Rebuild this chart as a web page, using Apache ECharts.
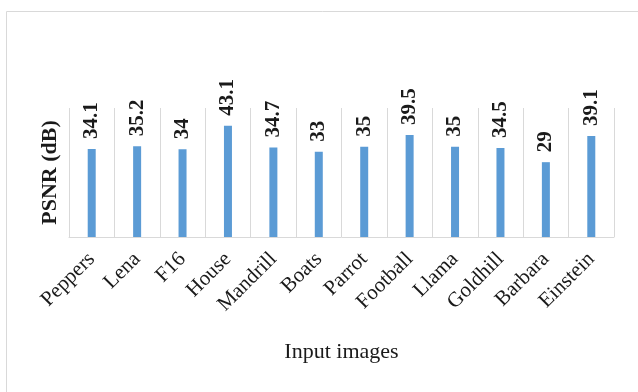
<!DOCTYPE html>
<html>
<head>
<meta charset="utf-8">
<script src="https://cdn.jsdelivr.net/npm/echarts@6/dist/echarts.min.js"></script>
<style>
  html, body { margin: 0; padding: 0; background: #fff; }
  #chart { width: 638px; height: 392px; }
</style>
</head>
<body>
<div id="chart"></div>
<script>
var categories = ['Peppers', 'Lena', 'F16', 'House', 'Mandrill', 'Boats', 'Parrot', 'Football', 'Llama', 'Goldhill', 'Barbara', 'Einstein']
var psnrValues = [34.1, 35.2, 34, 43.1, 34.7, 33, 35, 39.5, 35, 34.5, 29, 39.1]

var serif = '"Liberation Serif", "Times New Roman", serif'
var myChart = echarts.init(document.getElementById('chart'))

var option = {
  animation: false,
  graphic: [
    {
      type: 'rect',
      shape: { x: 6.5, y: 11.5, width: 660, height: 420 },
      style: { fill: 'none', stroke: '#d9d9d9', lineWidth: 1 },
    },
  ],
  grid: { left: 69, right: 24, top: 108, bottom: 155 },
  xAxis: {
    type: 'category',
    data: categories,
    name: 'Input images',
    nameLocation: 'middle',
    nameGap: 104,
    nameTextStyle: { fontFamily: serif, fontSize: 22, color: '#1a1a1a' },
    axisLine: { lineStyle: { color: '#d9d9d9' } },
    axisTick: { show: false },
    splitLine: { show: true, lineStyle: { color: '#d9d9d9' } },
    axisLabel: {
      rotate: 45,
      margin: 19,
      interval: 0,
      fontFamily: serif,
      fontSize: 21,
      color: '#1a1a1a',
    },
  },
  yAxis: {
    type: 'value',
    min: 0,
    max: 50,
    name: 'PSNR (dB)',
    nameLocation: 'middle',
    nameGap: 8,
    nameTextStyle: { fontFamily: serif, fontSize: 22, fontWeight: 'bold', color: '#1a1a1a' },
    axisLine: { show: false },
    axisTick: { show: false },
    axisLabel: { show: false },
    splitLine: { show: false },
  },
  series: [
    {
      type: 'bar',
      data: psnrValues,
      barWidth: 8,
      itemStyle: { color: '#5b9bd5' },
      label: {
        show: true,
        position: 'top',
        rotate: 90,
        align: 'left',
        verticalAlign: 'middle',
        distance: 10,
        fontFamily: serif,
        fontSize: 21,
        fontWeight: 'bold',
        color: '#1a1a1a',
      },
    },
  ],
}
myChart.setOption(option)
</script>
</body>
</html>
